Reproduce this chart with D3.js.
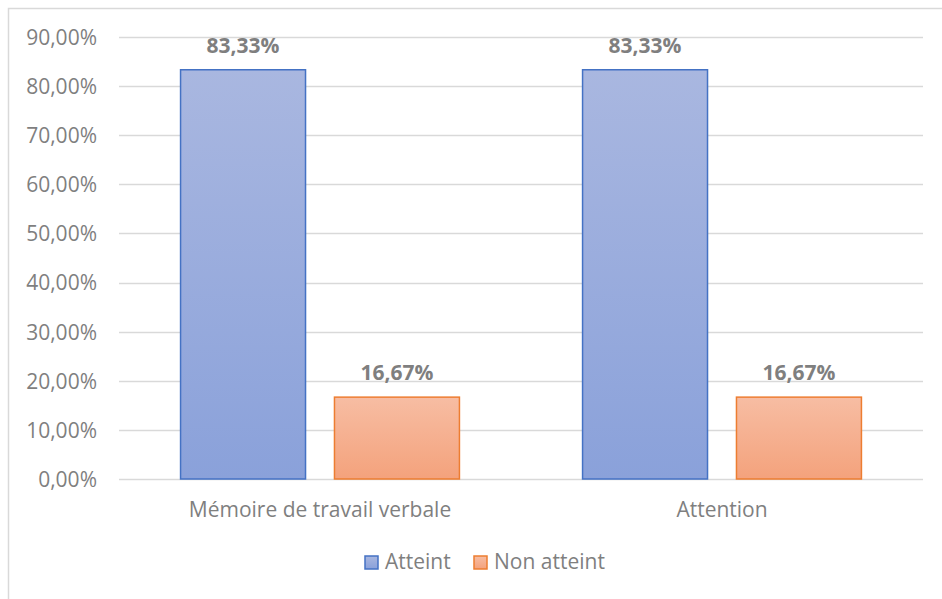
<!DOCTYPE html>
<html><head><meta charset="utf-8">
<script src="https://cdn.jsdelivr.net/npm/d3@7"></script>
<style>body{margin:0;background:#fff}svg{display:block}</style>
</head><body>
<svg id="c" width="942" height="599"></svg>
<script>
const categories = ["Mémoire de travail verbale", "Attention"];
const series = ["Atteint", "Non atteint"];
const atteint = [83.33, 83.33];
const nonAtteint = [16.67, 16.67];
const yTicks = [0, 10, 20, 30, 40, 50, 60, 70, 80, 90];

const svg = d3.select("#c");
const W = 942, H = 599;
const font = "'Open Sans', 'Liberation Sans', sans-serif";
const grey = "#7f7f7f";
const fs = 21;

// chart border
svg.append("path").attr("d", `M8.5,${H} V8.5 H${W}`).attr("fill","none").attr("stroke","#d9d9d9").attr("stroke-width",1.5);

const defs = svg.append("defs");
const g1 = defs.append("linearGradient").attr("id","gb").attr("x1",0).attr("y1",0).attr("x2",0).attr("y2",1);
g1.append("stop").attr("offset","0%").attr("stop-color","#a9b7e0");
g1.append("stop").attr("offset","100%").attr("stop-color","#8aa1da");
const g2 = defs.append("linearGradient").attr("id","go").attr("x1",0).attr("y1",0).attr("x2",0).attr("y2",1);
g2.append("stop").attr("offset","0%").attr("stop-color","#f7bda3");
g2.append("stop").attr("offset","100%").attr("stop-color","#f4a27c");

const x0 = d3.scaleBand().domain(categories).range([119, 923]).paddingInner(0).paddingOuter(0);
const x1 = d3.scaleBand().domain(series).range([0, x0.bandwidth()]).paddingInner(0.188).paddingOuter(0.4);
const y = d3.scaleLinear().domain([0, 90]).range([479, 37]);

// gridlines
svg.append("g").selectAll("line").data(yTicks).join("line")
  .attr("x1", 119).attr("x2", 923)
  .attr("y1", d => Math.round(y(d)) + 0.5).attr("y2", d => Math.round(y(d)) + 0.5)
  .attr("stroke", "#d9d9d9").attr("stroke-width", 1.5);

// y axis labels
const yAxis = d3.axisLeft(y).tickValues(yTicks).tickSize(0).tickPadding(0)
  .tickFormat(d => d3.format(".2f")(d).replace(".", ",") + "%");
const ya = svg.append("g").attr("transform", "translate(97,0)").call(yAxis);
ya.select(".domain").remove();
ya.selectAll("text").attr("font-family", font).attr("font-size", fs).attr("fill", grey).attr("dy","0.35em");

const data = categories.map((c, i) => ({c, vals: [{s: series[0], v: atteint[i]}, {s: series[1], v: nonAtteint[i]}]}));
const fills = {"Atteint": "url(#gb)", "Non atteint": "url(#go)"};
const strokes = {"Atteint": "#4472c4", "Non atteint": "#ed7d31"};

const grp = svg.append("g").selectAll("g").data(data).join("g")
  .attr("transform", d => `translate(${x0(d.c)},0)`);
grp.selectAll("rect").data(d => d.vals).join("rect")
  .attr("x", d => x1(d.s)).attr("width", x1.bandwidth())
  .attr("y", d => y(d.v)).attr("height", d => y(0) - y(d.v))
  .attr("fill", d => fills[d.s]).attr("stroke", d => strokes[d.s]).attr("stroke-width", 1.5);
grp.selectAll("text").data(d => d.vals).join("text")
  .attr("x", d => x1(d.s) + x1.bandwidth()/2).attr("y", d => y(d.v) - 17)
  .attr("text-anchor", "middle").attr("font-family", font).attr("font-weight", "bold")
  .attr("font-size", fs).attr("fill", grey)
  .text(d => d3.format(".2f")(d.v).replace(".", ",") + "%");

// x axis labels
const xAxis = d3.axisBottom(x0).tickSize(0).tickPadding(0);
const xa = svg.append("g").attr("transform", "translate(0,517)").call(xAxis);
xa.select(".domain").remove();
xa.selectAll("text").attr("font-family", font).attr("font-size", fs).attr("fill", grey).attr("dy","0");

// legend
const lg = svg.append("g");
const lx = [365, 474];
series.forEach((s, i) => {
  lg.append("rect").attr("x", lx[i]).attr("y", 556).attr("width", 13).attr("height", 13)
    .attr("fill", fills[s]).attr("stroke", strokes[s]).attr("stroke-width", 1.5);
  lg.append("text").attr("x", lx[i] + 20).attr("y", 569)
    .attr("font-family", font).attr("font-size", fs).attr("fill", grey).text(s);
});
</script>
</body></html>
